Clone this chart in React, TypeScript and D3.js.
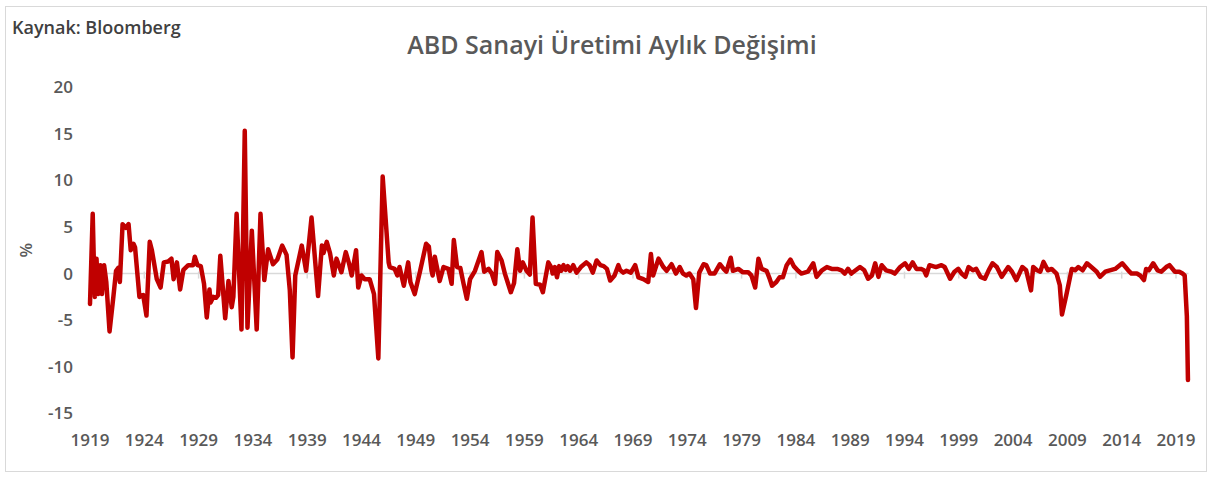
import React from 'react';
import * as d3 from 'd3';

// decimal year of each reading (turning points)
const periods = [
  1919.0, 1919.25, 1919.35, 1919.45, 1919.6, 1919.75, 1919.95, 1920.1, 1920.3, 1920.5,
  1920.8, 1921.15, 1921.4, 1921.6, 1921.75, 1922.0, 1922.15, 1922.3, 1922.55, 1922.75,
  1923.0, 1923.15, 1923.55, 1923.9, 1924.2, 1924.5, 1924.7, 1925.15, 1925.5, 1925.8,
  1926.2, 1926.5, 1926.7, 1927.0, 1927.3, 1927.6, 1928.05, 1928.5, 1928.65, 1928.9,
  1929.2, 1929.5, 1929.75, 1930.0, 1930.1, 1930.35, 1930.6, 1930.8, 1931.0, 1931.45,
  1931.75, 1932.05, 1932.2, 1932.5, 1932.95, 1933.25, 1933.5, 1933.9, 1934.35, 1934.7,
  1935.05, 1935.4, 1935.85, 1936.25, 1936.7, 1937.1, 1937.4, 1937.65, 1937.9, 1938.5,
  1938.9, 1939.4, 1940.0, 1940.35, 1940.5, 1940.8, 1941.1, 1941.45, 1941.7, 1942.15,
  1942.55, 1942.85, 1943.1, 1943.5, 1943.7, 1944.0, 1944.3, 1944.75, 1945.15, 1945.55,
  1945.95, 1946.5, 1946.6, 1947.05, 1947.3, 1947.5, 1947.9, 1948.3, 1948.5, 1948.9,
  1949.4, 1949.95, 1950.2, 1950.45, 1950.55, 1950.75, 1951.2, 1951.55, 1952.0, 1952.3,
  1952.5, 1952.8, 1953.1, 1953.4, 1953.7, 1954.0, 1954.45, 1955.05, 1955.3, 1955.7,
  1956.0, 1956.3, 1956.5, 1956.9, 1957.2, 1957.75, 1958.05, 1958.35, 1958.6, 1958.85,
  1959.2, 1959.5, 1959.75, 1960.05, 1960.45, 1960.7, 1961.2, 1961.5, 1961.6, 1961.8,
  1962.0, 1962.2, 1962.4, 1962.6, 1962.8, 1963.0, 1963.2, 1963.5, 1963.8, 1964.2,
  1964.7, 1965.0, 1965.3, 1965.65, 1966.0, 1966.3, 1966.6, 1966.9, 1967.3, 1967.65,
  1967.8, 1968.1, 1968.4, 1968.8, 1969.2, 1969.5, 1969.95, 1970.4, 1970.65, 1970.85,
  1971.35, 1971.8, 1972.1, 1972.55, 1972.95, 1973.3, 1973.6, 1973.9, 1974.2, 1974.55,
  1974.8, 1975.1, 1975.5, 1975.75, 1976.1, 1976.5, 1977.0, 1977.35, 1977.6, 1978.0,
  1978.2, 1978.7, 1979.1, 1979.6, 1979.9, 1980.25, 1980.55, 1980.85, 1981.3, 1981.6,
  1981.8, 1982.2, 1982.5, 1982.8, 1983.15, 1983.5, 1983.8, 1984.2, 1984.5, 1985.1,
  1985.6, 1985.9, 1986.4, 1986.85, 1987.3, 1987.8, 1988.2, 1988.5, 1988.8, 1989.1,
  1989.5, 1989.9, 1990.3, 1990.65, 1991.0, 1991.3, 1991.6, 1991.9, 1992.3, 1992.8,
  1993.1, 1993.6, 1994.05, 1994.4, 1994.75, 1995.1, 1995.5, 1995.8, 1996.0, 1996.3,
  1996.9, 1997.4, 1997.7, 1998.2, 1998.6, 1998.95, 1999.25, 1999.6, 1999.9, 2000.3,
  2000.6, 2001.0, 2001.4, 2001.75, 2002.1, 2002.5, 2002.95, 2003.55, 2003.9, 2004.3,
  2004.85, 2005.2, 2005.65, 2005.85, 2006.2, 2006.5, 2006.8, 2007.2, 2007.55, 2008.0,
  2008.3, 2008.5, 2008.9, 2009.4, 2009.7, 2010.0, 2010.4, 2010.8, 2011.2, 2011.7,
  2012.0, 2012.5, 2012.9, 2013.4, 2014.05, 2014.6, 2014.9, 2015.4, 2015.7, 2016.05,
  2016.25, 2016.5, 2016.9, 2017.3, 2017.65, 2018.1, 2018.4, 2018.9, 2019.3, 2019.6,
  2019.8, 2020.0, 2020.1,
];

// monthly % change at each reading
const changes = [
  -3.25, 6.4, 1.4, -2.5, 1.6, -2.2, 0.9, -2.2, 0.9, -0.9,
  -6.2, -2.5, 0.3, 0.6, -0.9, 5.3, 5.1, 4.9, 5.3, 2.5,
  3.2, 2.8, -2.5, -2.3, -4.5, 3.4, 2.5, -0.6, -1.5, 1.2,
  1.3, 1.6, -0.6, 1.2, -1.7, 0.4, 0.9, 0.9, 1.8, 0.9,
  0.8, -1.1, -4.7, -1.7, -3.1, -2.5, -2.6, -2.3, 1.9, -4.8,
  -0.8, -3.6, -2.5, 6.4, -6.0, 15.3, -5.8, 4.6, -6.0, 6.4,
  -0.7, 2.6, 1.0, 1.5, 3.0, 2.0, -1.8, -9.0, -0.2, 3.0,
  0.3, 6.0, -2.4, 3.0, 2.2, 3.4, 2.2, -0.2, 1.6, 0.15,
  2.3, 1.1, -0.2, 2.5, -1.5, -0.2, -0.6, -0.6, -2.2, -9.1,
  10.4, 1.2, 0.7, 0.5, -0.2, 0.7, -1.3, 1.2, -0.9, -2.2,
  0.3, 3.2, 2.9, 0.3, -0.2, 1.8, -0.8, 0.7, 0.5, -1.1,
  3.6, 0.7, 0.6, -1.1, -2.7, -0.6, 0.3, 2.3, 0.2, 0.5,
  0.0, -1.1, 2.3, 1.4, 0.0, -2.0, -1.0, 2.6, 0.3, 1.2,
  0.3, -0.1, 6.0, -1.1, -1.2, -2.0, 1.2, 0.6, 0.0, 0.7,
  -0.4, 0.8, 0.3, 0.9, 0.4, 0.8, 0.3, 0.9, 0.1, 0.7,
  1.2, 0.9, 0.1, 1.4, 0.9, 0.8, 0.5, -0.75, -0.2, 0.9,
  0.4, 0.1, 0.3, 0.1, 0.9, -0.4, -0.6, -0.9, 2.1, -0.2,
  1.6, 0.7, 0.3, 1.0, 0.0, 0.7, 0.0, -0.2, 0.0, -0.6,
  -3.7, 0.1, 1.0, 0.9, 0.0, 0.0, 1.0, 0.5, 0.2, 1.7,
  0.3, 0.5, 0.15, 0.15, -0.2, -1.5, 1.6, 0.5, 0.3, -0.6,
  -1.3, -0.9, -0.4, -0.4, 0.9, 1.5, 0.8, 0.3, 0.0, 0.2,
  1.1, -0.35, 0.35, 0.7, 0.5, 0.5, 0.35, 0.0, 0.5, 0.0,
  0.35, 0.7, 0.35, -0.55, -0.2, 1.1, -0.35, 0.9, 0.35, 0.2,
  0.0, 0.7, 1.1, 0.5, 1.2, 0.5, 0.5, 0.35, -0.2, 0.9,
  0.7, 0.9, 0.7, -0.55, 0.2, 0.5, 0.0, -0.35, 0.7, 0.35,
  0.5, -0.35, -0.55, 0.35, 1.1, 0.7, -0.35, 0.7, 0.2, -0.7,
  0.7, 0.35, -1.8, 0.7, 0.35, 0.2, 1.25, 0.35, 0.5, 0.0,
  -1.25, -4.4, -2.3, 0.5, 0.35, 0.7, 0.35, 1.1, 0.7, 0.2,
  -0.35, 0.2, 0.35, 0.5, 1.1, 0.35, 0.0, 0.0, -0.2, -0.7,
  0.5, 0.35, 1.1, 0.35, 0.2, 0.7, 0.9, 0.2, 0.2, 0.0,
  -0.2, -4.6, -11.4,
];

const yearLabels = [
  1919, 1924, 1929, 1934, 1939, 1944, 1949, 1954, 1959, 1964, 1969,
  1974, 1979, 1984, 1989, 1994, 1999, 2004, 2009, 2014, 2019,
];
const valueLabels = [20, 15, 10, 5, 0, -5, -10, -15];

const W = 1212;
const H = 478;
const FONT = '"Open Sans", "Liberation Sans", sans-serif';
const LABEL = '#595959';

export default function App() {
  const x = d3.scaleLinear().domain([1919, 2019]).range([90, 1176]);
  const y = d3.scaleLinear().domain([-15, 20]).range([413.5, 87]);

  const points = periods.map((p, i) => [p, changes[i]] as [number, number]);
  const line = d3.line<[number, number]>()
    .x(d => x(d[0]))
    .y(d => y(d[1]));

  const y0 = y(0);

  return (
    <div style={{ position: 'absolute', left: 0, top: 0 }}>
      <svg width={W} height={H} style={{ display: 'block', background: '#fff' }}>
        <rect x={5.5} y={6.5} width={1201} height={465} fill="#fff" stroke="#d9d9d9" />

        <text x={12} y={34} fontFamily={FONT} fontWeight={600} fontSize={18} fill="#404040">
          Kaynak: Bloomberg
        </text>
        <text x={612} y={54} textAnchor="middle" fontFamily={FONT} fontWeight={600}
          fontSize={25} fill={LABEL}>
          ABD Sanayi Üretimi Aylık Değişimi
        </text>

        {valueLabels.map(v => (
          <text key={v} x={73} y={y(v)} dy="0.35em" textAnchor="end"
            fontFamily={FONT} fontWeight={600} fontSize={17} fill={LABEL}>
            {v}
          </text>
        ))}
        <text transform={`translate(32,${y(2.5)}) rotate(-90)`} textAnchor="middle"
          fontFamily={FONT} fontWeight={600} fontSize={17} fill={LABEL}>
          %
        </text>

        <line x1={x(1919)} x2={x(2020.15)} y1={y0} y2={y0} stroke="#d9d9d9" strokeWidth={1.5} />
        {yearLabels.map(yr => (
          <g key={yr}>
            <line x1={x(yr)} x2={x(yr)} y1={y0 - 2} y2={y0 + 5} stroke="#d9d9d9" strokeWidth={1.5} />
            <text x={x(yr)} y={440} dy="0.35em" textAnchor="middle"
              fontFamily={FONT} fontWeight={600} fontSize={17} fill={LABEL}>
              {yr}
            </text>
          </g>
        ))}

        <path d={line(points) ?? ''} fill="none" stroke="#c00000" strokeWidth={4.5}
          strokeLinejoin="round" strokeLinecap="round" />
      </svg>
    </div>
  );
}
